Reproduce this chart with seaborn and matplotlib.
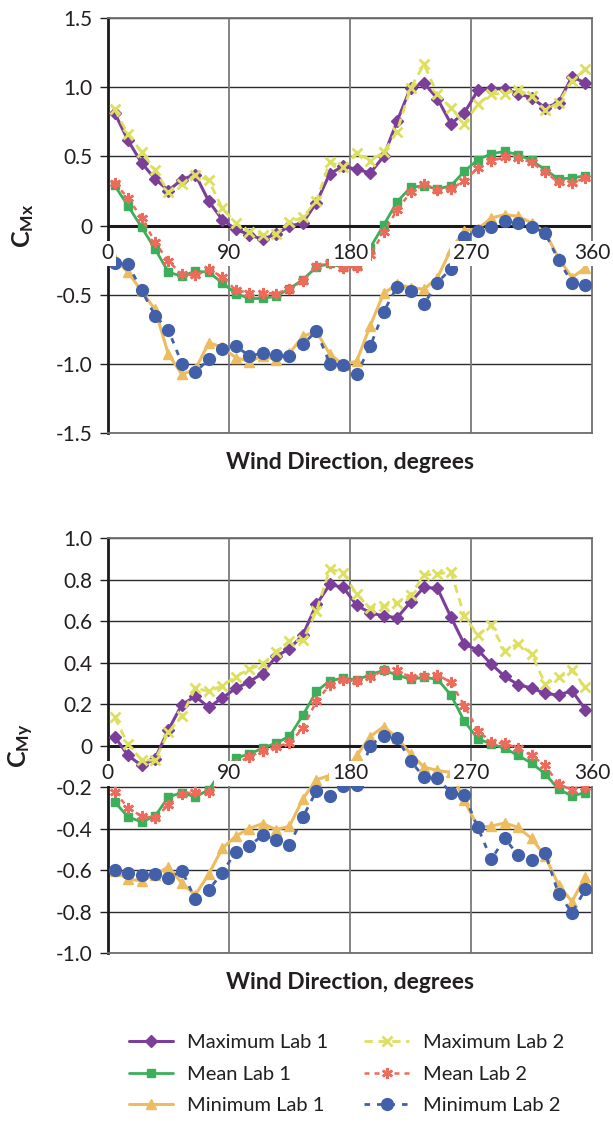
import matplotlib
matplotlib.use("Agg")
import matplotlib.pyplot as plt
import seaborn as sns
import pandas as pd

# ---------------- data ----------------
wind_dir = [5, 15, 25, 35, 45, 55, 65, 75, 85, 95, 105, 115, 125, 135, 145, 155, 165, 175,
            185, 195, 205, 215, 225, 235, 245, 255, 265, 275, 285, 295, 305, 315, 325, 335, 345, 355]

series_names = ["Maximum Lab 1", "Maximum Lab 2", "Mean Lab 1", "Mean Lab 2",
                "Minimum Lab 1", "Minimum Lab 2"]

# CMx
cmx_max1 = [0.815, 0.615, 0.454, 0.338, 0.253, 0.333, 0.369, 0.176, 0.043, -0.027, -0.065, -0.10,
            -0.06, -0.005, 0.02, 0.166, 0.376, 0.428, 0.407, 0.38, 0.50, 0.755, 0.996, 1.03,
            0.917, 0.736, 0.815, 0.977, 0.989, 0.989, 0.953, 0.924, 0.852, 0.888, 1.076, 1.03]
cmx_max2 = [0.84, 0.66, 0.533, 0.405, 0.241, 0.297, 0.369, 0.326, 0.125, 0.02, -0.05, -0.065,
            -0.06, 0.025, 0.06, 0.18, 0.458, 0.42, 0.528, 0.47, 0.53, 0.68, 0.996, 1.165,
            0.948, 0.852, 0.736, 0.876, 0.953, 0.953, 0.98, 0.936, 0.834, 0.888, 1.044, 1.134]
cmx_mean1 = [0.29, 0.142, -0.011, -0.168, -0.337, -0.366, -0.33, -0.337, -0.414, -0.491, -0.527,
             -0.527, -0.51, -0.457, -0.39, -0.30, -0.274, -0.303, -0.292, -0.16, 0.003, 0.172,
             0.276, 0.288, 0.264, 0.288, 0.392, 0.476, 0.519, 0.536, 0.512, 0.471, 0.404, 0.337,
             0.344, 0.36]
cmx_mean2 = [0.31, 0.197, 0.058, -0.12, -0.257, -0.353, -0.36, -0.317, -0.37, -0.466, -0.486,
             -0.486, -0.493, -0.457, -0.40, -0.293, -0.27, -0.305, -0.30, -0.21, -0.05, 0.113,
             0.24, 0.30, 0.26, 0.264, 0.325, 0.416, 0.469, 0.493, 0.488, 0.457, 0.385, 0.313,
             0.308, 0.344]
cmx_min1 = [-0.24, -0.337, -0.474, -0.606, -0.93, -1.075, -1.04, -0.846, -0.88, -0.954, -0.983,
            -0.942, -0.97, -0.923, -0.80, -0.765, -0.93, -1.005, -0.98, -0.724, -0.49, -0.424,
            -0.448, -0.46, -0.376, -0.173, -0.036, -0.024, 0.055, 0.079, 0.067, 0.019, -0.048,
            -0.233, -0.376, -0.305]
cmx_min2 = [-0.27, -0.28, -0.466, -0.65, -0.755, -0.998, -1.06, -0.966, -0.894, -0.87, -0.942,
            -0.923, -0.935, -0.942, -0.858, -0.762, -0.998, -1.01, -1.072, -0.873, -0.623, -0.441,
            -0.472, -0.568, -0.412, -0.312, -0.084, -0.041, -0.01, 0.031, 0.019, -0.01, -0.053,
            -0.25, -0.412, -0.432]

# CMy
cmy_max1 = [0.043, -0.048, -0.096, -0.064, 0.076, 0.197, 0.237, 0.184, 0.229, 0.275, 0.307, 0.347,
            0.429, 0.467, 0.533, 0.68, 0.776, 0.762, 0.675, 0.64, 0.624, 0.616, 0.691, 0.763,
            0.757, 0.619, 0.488, 0.461, 0.392, 0.333, 0.293, 0.277, 0.251, 0.243, 0.264, 0.173]
cmy_max2 = [0.136, 0.006, -0.069, -0.072, 0.064, 0.144, 0.277, 0.261, 0.288, 0.331, 0.368, 0.392,
            0.453, 0.504, 0.507, 0.648, 0.851, 0.832, 0.728, 0.661, 0.672, 0.688, 0.725, 0.821,
            0.827, 0.837, 0.624, 0.533, 0.581, 0.456, 0.491, 0.443, 0.296, 0.328, 0.363, 0.28]
cmy_mean1 = [-0.272, -0.344, -0.368, -0.341, -0.248, -0.227, -0.248, -0.213, -0.12, -0.062, -0.04,
             -0.014, 0.012, 0.044, 0.147, 0.261, 0.312, 0.325, 0.316, 0.341, 0.363, 0.339, 0.32,
             0.328, 0.32, 0.243, 0.117, 0.032, 0.008, -0.014, -0.048, -0.085, -0.136, -0.211,
             -0.243, -0.227]
cmy_mean2 = [-0.224, -0.30, -0.341, -0.347, -0.288, -0.232, -0.224, -0.224, -0.16, -0.09, -0.053,
             -0.027, -0.005, 0.011, 0.085, 0.213, 0.293, 0.315, 0.31, 0.328, 0.363, 0.363, 0.328,
             0.336, 0.341, 0.304, 0.192, 0.072, 0.016, 0.01, -0.014, -0.048, -0.096, -0.184,
             -0.216, -0.2]
cmy_min1 = [-0.605, -0.645, -0.651, -0.624, -0.584, -0.664, -0.72, -0.619, -0.496, -0.437, -0.40,
            -0.376, -0.405, -0.389, -0.256, -0.165, -0.144, -0.13, -0.048, 0.043, 0.091, 0.037,
            -0.04, -0.104, -0.12, -0.13, -0.264, -0.392, -0.389, -0.373, -0.395, -0.448, -0.533,
            -0.672, -0.752, -0.632]
cmy_min2 = [-0.60, -0.613, -0.624, -0.619, -0.64, -0.603, -0.741, -0.696, -0.613, -0.512, -0.485,
            -0.432, -0.453, -0.48, -0.344, -0.219, -0.245, -0.197, -0.19, 0.0, 0.048, 0.037,
            -0.075, -0.152, -0.155, -0.229, -0.24, -0.395, -0.549, -0.448, -0.528, -0.552,
            -0.517, -0.715, -0.805, -0.693]

x_tick_values = [0, 90, 180, 270, 360]
x_tick_labels = ["0", "90", "180", "270", "360"]
cmx_ticks = [-1.5, -1.0, -0.5, 0, 0.5, 1.0, 1.5]
cmx_tick_labels = ["-1.5", "-1.0", "-0.5", "0", "0.5", "1.0", "1.5"]
cmy_ticks = [-1.0, -0.8, -0.6, -0.4, -0.2, 0, 0.2, 0.4, 0.6, 0.8, 1.0]
cmy_tick_labels = ["-1.0", "-0.8", "-0.6", "-0.4", "-0.2", "0", "0.2", "0.4", "0.6", "0.8", "1.0"]

# ---------------- styles ----------------
styles = {
    "Maximum Lab 1": dict(color="#7B3F9A", marker="D", ms=6, lw=2.2, dash="", mew=1.0),
    "Maximum Lab 2": dict(color="#DDE05E", marker="x", ms=7, lw=2.0, dash=(3, 2), mew=2.0),
    "Mean Lab 1": dict(color="#3DAE5A", marker="s", ms=6, lw=2.0, dash="", mew=1.0),
    "Mean Lab 2": dict(color="#EE6A5B", marker=(6, 2, 0), ms=8, lw=1.8, dash=(2, 2), mew=1.8),
    "Minimum Lab 1": dict(color="#EDBC5E", marker="^", ms=7, lw=2.2, dash="", mew=1.0),
    "Minimum Lab 2": dict(color="#4260A9", marker="o", ms=8.5, lw=2.0, dash=(2, 2.5), mew=1.0),
}

sns.set_theme(style="white")
plt.rcParams["font.family"] = ["Lato", "DejaVu Sans"]
plt.rcParams["mathtext.fontset"] = "custom"
plt.rcParams["mathtext.rm"] = "Lato"
plt.rcParams["mathtext.bf"] = "Lato:bold"
plt.rcParams["mathtext.it"] = "Lato:italic"

TXT = "#231f20"

fig = plt.figure(figsize=(6.13, 11.22), dpi=100)
ax1 = fig.add_axes([0.176, 0.614, 0.790, 0.3699])
ax2 = fig.add_axes([0.176, 0.1506, 0.790, 0.3699])


def draw_panel(ax, values, yticks, ylabels, ylim, ylab):
    handles = {}
    for name in series_names:
        st = styles[name]
        df = pd.DataFrame({"deg": wind_dir, "val": values[name], "series": name})
        sns.lineplot(data=df, x="deg", y="val", style="series",
                     markers={name: st["marker"]}, dashes={name: st["dash"]},
                     color=st["color"], linewidth=st["lw"], markersize=st["ms"],
                     markeredgecolor=st["color"], markerfacecolor=st["color"],
                     markeredgewidth=st["mew"], legend=False, ax=ax, zorder=3)
        handles[name] = ax.lines[-1]
    ax.set_xlim(0, 360)
    ax.set_ylim(*ylim)
    ax.set_xticks(x_tick_values)
    ax.set_xticklabels([])
    ax.tick_params(axis="x", length=0)
    ax.set_yticks(yticks)
    ax.set_yticklabels(ylabels, fontsize=15, color=TXT)
    ax.tick_params(axis="y", direction="out", length=6, width=1.0, color="#231f20",
                   pad=5, left=True)
    ax.set_xlabel("")
    ax.set_ylabel(ylab, fontsize=18, color=TXT, labelpad=14)
    ax.grid(False)
    for yv in yticks:
        ax.axhline(yv, color="#2b2b2b", lw=1.0, zorder=1)
    for xv in [90, 180, 270]:
        ax.axvline(xv, color="#7a7a7a", lw=1.3, zorder=1)
    ax.axhline(0, color="#1a1a1a", lw=2.2, zorder=2)
    for side in ["top", "right", "bottom"]:
        ax.spines[side].set_color("#6e6e6e")
        ax.spines[side].set_linewidth(1.3)
    ax.spines["left"].set_color("#1a1a1a")
    ax.spines["left"].set_linewidth(2.0)
    for xv, lab in zip(x_tick_values, x_tick_labels):
        ax.annotate(lab, xy=(xv, 0), xytext=(0, -20), textcoords="offset points",
                    ha="center", va="center", fontsize=15, color=TXT,
                    bbox=dict(boxstyle="square,pad=0.12", fc="white", ec="none"),
                    zorder=10, annotation_clip=False)
    ax.text(0.5, -0.072, "Wind Direction, degrees", transform=ax.transAxes,
            ha="center", va="center", fontsize=16.5, fontweight="bold", color=TXT)
    return handles


cmx_vals = {"Maximum Lab 1": cmx_max1, "Maximum Lab 2": cmx_max2, "Mean Lab 1": cmx_mean1,
            "Mean Lab 2": cmx_mean2, "Minimum Lab 1": cmx_min1, "Minimum Lab 2": cmx_min2}
cmy_vals = {"Maximum Lab 1": cmy_max1, "Maximum Lab 2": cmy_max2, "Mean Lab 1": cmy_mean1,
            "Mean Lab 2": cmy_mean2, "Minimum Lab 1": cmy_min1, "Minimum Lab 2": cmy_min2}

h = draw_panel(ax1, cmx_vals, cmx_ticks, cmx_tick_labels, (-1.5, 1.5),
               r"$\mathbf{C}_{\mathbf{Mx}}$")
draw_panel(ax2, cmy_vals, cmy_ticks, cmy_tick_labels, (-1.0, 1.0),
           r"$\mathbf{C}_{\mathbf{My}}$")

order = ["Maximum Lab 1", "Mean Lab 1", "Minimum Lab 1",
         "Maximum Lab 2", "Mean Lab 2", "Minimum Lab 2"]
fig.legend(handles=[h[n] for n in order], labels=order, ncol=2, loc="center",
           bbox_to_anchor=(0.565, 0.0425), frameon=False, fontsize=14.5,
           handlelength=2.2, handletextpad=0.7, columnspacing=1.8, labelspacing=0.72,
           numpoints=1, labelcolor=TXT, borderaxespad=0.2)

fig.savefig("out.png", dpi=100)
